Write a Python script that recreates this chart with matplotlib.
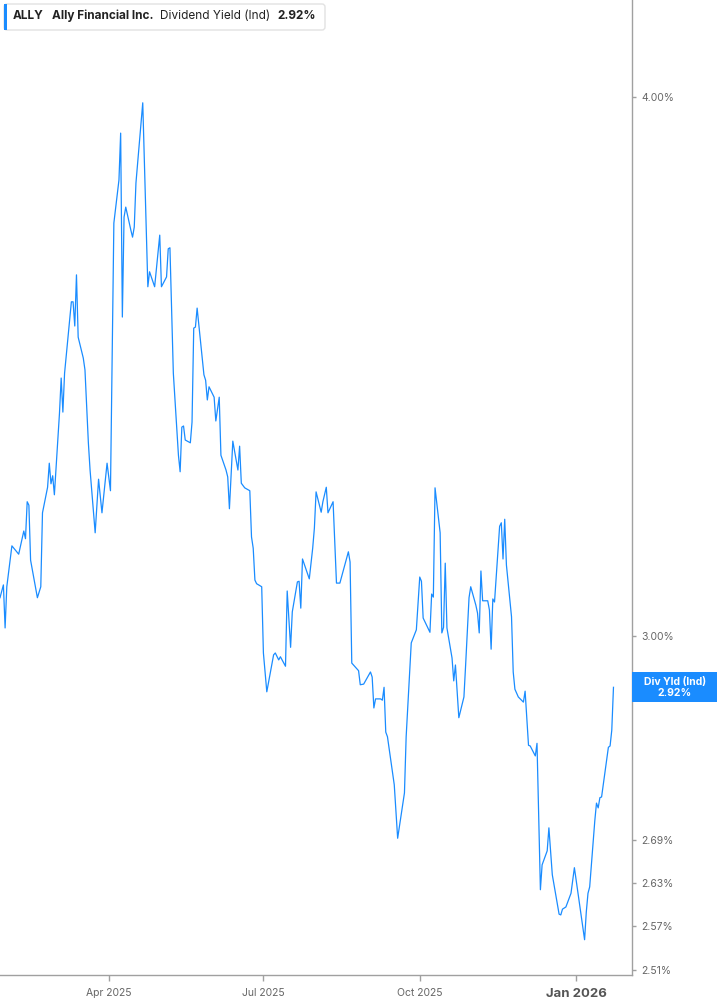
import pandas as pd
import matplotlib
matplotlib.use('Agg')
import matplotlib.pyplot as plt
from matplotlib.patches import FancyBboxPatch, Rectangle
from matplotlib.ticker import NullLocator
from matplotlib.transforms import IdentityTransform

plt.rcParams['font.family'] = ['Inter', 'DejaVu Sans']

# Rendement (indicatif) ALLY
dates = [
    '2025-01-27', '2025-01-29', '2025-01-30', '2025-01-31', '2025-02-03', '2025-02-07',
    '2025-02-10', '2025-02-11', '2025-02-12', '2025-02-13', '2025-02-14', '2025-02-18',
    '2025-02-20', '2025-02-21', '2025-02-24', '2025-02-25', '2025-02-26', '2025-02-27',
    '2025-02-28', '2025-03-03', '2025-03-04', '2025-03-05', '2025-03-06', '2025-03-10',
    '2025-03-11', '2025-03-12', '2025-03-13', '2025-03-14', '2025-03-17', '2025-03-18',
    '2025-03-20', '2025-03-21', '2025-03-24', '2025-03-26', '2025-03-28', '2025-03-31',
    '2025-04-02', '2025-04-04', '2025-04-07', '2025-04-08', '2025-04-09', '2025-04-10',
    '2025-04-11', '2025-04-14', '2025-04-15', '2025-04-16', '2025-04-17', '2025-04-21',
    '2025-04-24', '2025-04-25', '2025-04-28', '2025-05-01', '2025-05-02', '2025-05-05',
    '2025-05-06', '2025-05-07', '2025-05-09', '2025-05-12', '2025-05-13', '2025-05-14',
    '2025-05-15', '2025-05-16', '2025-05-19', '2025-05-20', '2025-05-21', '2025-05-22',
    '2025-05-23', '2025-05-27', '2025-05-28', '2025-05-29', '2025-05-30', '2025-06-02',
    '2025-06-03', '2025-06-05', '2025-06-06', '2025-06-09', '2025-06-10', '2025-06-11',
    '2025-06-13', '2025-06-16', '2025-06-17', '2025-06-18', '2025-06-20', '2025-06-23',
    '2025-06-24', '2025-06-25', '2025-06-26', '2025-06-27', '2025-06-30', '2025-07-01',
    '2025-07-03', '2025-07-07', '2025-07-08', '2025-07-10', '2025-07-11', '2025-07-14',
    '2025-07-15', '2025-07-17', '2025-07-18', '2025-07-21', '2025-07-22', '2025-07-23',
    '2025-07-24', '2025-07-28', '2025-07-30', '2025-07-31', '2025-08-01', '2025-08-04',
    '2025-08-05', '2025-08-07', '2025-08-08', '2025-08-11', '2025-08-13', '2025-08-15',
    '2025-08-20', '2025-08-21', '2025-08-22', '2025-08-26', '2025-08-27', '2025-08-29',
    '2025-09-02', '2025-09-03', '2025-09-04', '2025-09-05', '2025-09-08', '2025-09-09',
    '2025-09-10', '2025-09-11', '2025-09-12', '2025-09-16', '2025-09-18', '2025-09-22',
    '2025-09-23', '2025-09-26', '2025-09-29', '2025-10-01', '2025-10-02', '2025-10-03',
    '2025-10-07', '2025-10-08', '2025-10-09', '2025-10-10', '2025-10-13', '2025-10-14',
    '2025-10-15', '2025-10-16', '2025-10-17', '2025-10-20', '2025-10-21', '2025-10-22',
    '2025-10-24', '2025-10-27', '2025-10-28', '2025-10-30', '2025-10-31', '2025-11-03',
    '2025-11-04', '2025-11-05', '2025-11-06', '2025-11-07', '2025-11-10', '2025-11-11',
    '2025-11-12', '2025-11-13', '2025-11-14', '2025-11-17', '2025-11-18', '2025-11-19',
    '2025-11-20', '2025-11-21', '2025-11-24', '2025-11-25', '2025-11-26', '2025-11-28',
    '2025-12-01', '2025-12-02', '2025-12-04', '2025-12-05', '2025-12-08', '2025-12-09',
    '2025-12-11', '2025-12-12', '2025-12-15', '2025-12-16', '2025-12-18', '2025-12-22',
    '2025-12-23', '2025-12-24', '2025-12-26', '2025-12-29', '2025-12-31', '2026-01-02',
    '2026-01-06', '2026-01-07', '2026-01-08', '2026-01-09', '2026-01-12', '2026-01-13',
    '2026-01-14', '2026-01-15', '2026-01-16', '2026-01-20', '2026-01-21', '2026-01-22',
    '2026-01-23',
]
yields = [
    3.062, 3.083, 3.013, 3.080, 3.148, 3.134,
    3.173, 3.160, 3.223, 3.217, 3.124, 3.062,
    3.080, 3.204, 3.248, 3.290, 3.254, 3.268,
    3.235, 3.379, 3.443, 3.381, 3.452, 3.586,
    3.586, 3.540, 3.638, 3.519, 3.480, 3.458,
    3.326, 3.278, 3.170, 3.262, 3.204, 3.290,
    3.242, 3.740, 3.827, 3.924, 3.557, 3.752,
    3.772, 3.726, 3.712, 3.732, 3.821, 3.988,
    3.615, 3.644, 3.615, 3.716, 3.615, 3.634,
    3.689, 3.691, 3.452, 3.304, 3.275, 3.354,
    3.356, 3.331, 3.326, 3.363, 3.536, 3.538,
    3.574, 3.449, 3.439, 3.403, 3.427, 3.408,
    3.365, 3.408, 3.304, 3.278, 3.266, 3.211,
    3.329, 3.278, 3.320, 3.255, 3.247, 3.242,
    3.163, 3.144, 3.091, 3.085, 3.080, 2.973,
    2.912, 2.970, 2.973, 2.962, 2.967, 2.952,
    3.073, 2.982, 3.039, 3.088, 3.089, 3.045,
    3.126, 3.093, 3.144, 3.178, 3.240, 3.205,
    3.223, 3.248, 3.204, 3.223, 3.086, 3.086,
    3.138, 3.121, 2.957, 2.945, 2.923, 2.924,
    2.943, 2.935, 2.887, 2.901, 2.901, 2.899,
    2.919, 2.850, 2.843, 2.771, 2.693, 2.759,
    2.843, 2.989, 3.010, 3.096, 3.089, 3.029,
    3.006, 3.068, 3.063, 3.247, 3.170, 3.005,
    3.014, 3.119, 3.013, 2.965, 2.929, 2.954,
    2.872, 2.904, 2.954, 3.062, 3.080, 3.050,
    3.037, 3.005, 3.106, 3.057, 3.057, 3.042,
    2.979, 3.060, 3.055, 3.181, 3.187, 3.126,
    3.193, 3.116, 3.031, 2.943, 2.916, 2.904,
    2.896, 2.913, 2.830, 2.829, 2.814, 2.833,
    2.620, 2.655, 2.675, 2.708, 2.641, 2.586,
    2.585, 2.593, 2.596, 2.615, 2.651, 2.617,
    2.551, 2.589, 2.615, 2.624, 2.718, 2.744,
    2.737, 2.752, 2.753, 2.827, 2.829, 2.853,
    2.919,
]

yield_ticks = [4.00, 3.00, 2.69, 2.63, 2.57, 2.51]
month_ticks = ['2025-04-01', '2025-07-01', '2025-10-01', '2026-01-01']
month_labels = ['Apr 2025', 'Jul 2025', 'Oct 2025', 'Jan 2026']

ticker = 'ALLY'
company = 'Ally Financial Inc.'
metric = 'Dividend Yield (Ind)'
short_metric = 'Div Yld (Ind)'

blue = '#1a8cff'
axis_grey = '#a0a0a0'
text_grey = '#666666'

W, H = 717, 1005
fig = plt.figure(figsize=(W / 100, H / 100), dpi=100)
ax = fig.add_axes([0, 1 - 975 / H, 632 / W, 975 / H])

x = pd.to_datetime(dates)
ax.plot(x, yields, color=blue, lw=0.9)

ax.set_yscale('log')
ax.set_ylim(2.5034, 4.213)
start = pd.Timestamp('2025-01-27')
ax.set_xlim(start, start + pd.Timedelta(days=371.9))

ax.yaxis.tick_right()
ax.set_yticks(yield_ticks)
ax.set_yticklabels([f'{v:.2f}%' for v in yield_ticks])
ax.yaxis.set_minor_locator(NullLocator())
ax.set_xticks(pd.to_datetime(month_ticks))
ax.set_xticklabels(month_labels)

for side in ['left', 'top']:
    ax.spines[side].set_visible(False)
for side in ['right', 'bottom']:
    ax.spines[side].set_color(axis_grey)
    ax.spines[side].set_linewidth(1.0)

ax.tick_params(axis='y', length=3, width=1, color=axis_grey, labelcolor=text_grey,
               labelsize=7.5, pad=4)
ax.tick_params(axis='x', length=4, width=1, color=axis_grey, labelcolor=text_grey,
               labelsize=7.5, pad=5)
last_lbl = ax.get_xticklabels()[-1]
last_lbl.set_fontweight('bold')
last_lbl.set_fontsize(9.5)
last_lbl.set_color('#555555')

# Encadre du titre en haut a gauche (coordonnees en pixels)
ident = IdentityTransform()
fig.add_artist(FancyBboxPatch((4, H - 30), 321, 26, boxstyle='round,pad=0,rounding_size=3',
                              transform=ident, fc='white', ec='#e2e2e2', lw=1))
fig.add_artist(Rectangle((4, H - 30), 3, 26, transform=ident, fc=blue, ec='none'))
ty = H - 16
fig.text(13, ty, ticker, transform=ident, fontsize=8.5, fontweight='bold', color='#222222', va='center')
fig.text(52, ty, company, transform=ident, fontsize=8.5, fontweight='bold', color='#222222', va='center')
fig.text(160, ty, metric, transform=ident, fontsize=8.5, color='#222222', va='center')
fig.text(277, ty, f'{yields[-1]:.2f}%', transform=ident, fontsize=8.5, fontweight='bold',
         color='#222222', va='center')

# Etiquette de la derniere valeur, calee sur l'echelle des y
y_last = ax.transData.transform((ax.get_xlim()[0], yields[-1]))[1]
fig.add_artist(Rectangle((632, y_last - 15), W - 632, 30, transform=ident, fc=blue, ec='none'))
fig.text(675, y_last + 5.5, short_metric, transform=ident, fontsize=7.5, fontweight='bold',
         color='white', ha='center', va='center')
fig.text(675, y_last - 5.5, f'{yields[-1]:.2f}%', transform=ident, fontsize=7.5,
         fontweight='bold', color='white', ha='center', va='center')

fig.savefig('out.png', dpi=100)
